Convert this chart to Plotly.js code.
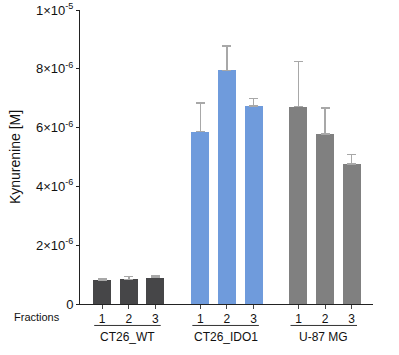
<!DOCTYPE html>
<html>
<head>
<meta charset="utf-8">
<script src="https://cdn.plot.ly/plotly-3.0.1.min.js"></script>
<style>html,body{margin:0;padding:0;background:#fff;}#chart{width:399px;height:355px;}</style>
</head>
<body>
<div id="chart"></div>
<script>
const groups = ["CT26_WT", "CT26_IDO1", "U-87 MG"];
const fractions = ["1", "2", "3"];
const wtValues = [0.82e-6, 0.84e-6, 0.90e-6];
const wtErrors = [0.05e-6, 0.10e-6, 0.06e-6];
const idoValues = [5.86e-6, 7.95e-6, 6.73e-6];
const idoErrors = [0.98e-6, 0.82e-6, 0.26e-6];
const u87Values = [6.71e-6, 5.78e-6, 4.77e-6];
const u87Errors = [1.53e-6, 0.88e-6, 0.32e-6];
const yTickVals = [0, 2e-6, 4e-6, 6e-6, 8e-6, 1e-5];
const yTickText = ["0", "2×10<sup>-6</sup>", "4×10<sup>-6</sup>", "6×10<sup>-6</sup>", "8×10<sup>-6</sup>", "1×10<sup>-5</sup>"];

const groupOffsets = [0, 3.6875, 7.375];
const colors = ["#464648", "#6f9bdc", "#808080"];
const seriesVals = [wtValues, idoValues, u87Values];
const seriesErr = [wtErrors, idoErrors, u87Errors];

const traces = [];
const allX = [], allText = [];
groups.forEach((g, gi) => {
  const xs = fractions.map((f, i) => groupOffsets[gi] + i);
  xs.forEach((x, i) => { allX.push(x); allText.push(fractions[i]); });
  traces.push({
    type: "bar", x: xs, y: seriesVals[gi], width: 0.675,
    marker: {color: colors[gi], line: {width: 0}},
    error_y: {type: "data", symmetric: false, array: seriesErr[gi], arrayminus: [0,0,0],
      color: "#a8a8a8", thickness: 1.5, width: 4.5},
    showlegend: false, hoverinfo: "skip"
  });
});

const shapes = [], annotations = [];
groups.forEach((g, gi) => {
  const c = groupOffsets[gi] + 1;
  shapes.push({type: "line", xref: "x", yref: "paper", x0: c - 1.3, x1: c + 1.2, y0: -0.073, y1: -0.073,
    line: {color: "#333", width: 1}});
  annotations.push({xref: "x", yref: "paper", x: c - 0.05, y: -0.112, text: g, showarrow: false,
    font: {family: "Liberation Sans, Arial, sans-serif", size: 12, color: "#111"}, yanchor: "middle"});
});
annotations.push({xref: "paper", yref: "paper", x: -0.06, y: -0.043, text: "Fractions", showarrow: false,
  xanchor: "right", yanchor: "middle", font: {family: "Liberation Sans, Arial, sans-serif", size: 11, color: "#111"}});

Plotly.newPlot("chart", traces, {
  width: 399, height: 355,
  margin: {l: 80, r: 26, t: 10, b: 51},
  paper_bgcolor: "#fff", plot_bgcolor: "#fff",
  bargap: 0,
  xaxis: {range: [-0.833, 10.175], tickvals: allX, ticktext: allText, showgrid: false, zeroline: false,
    showline: true, linecolor: "#222", linewidth: 1, ticks: "outside", ticklen: 4, tickcolor: "#444",
    tickfont: {family: "Liberation Sans, Arial, sans-serif", size: 12, color: "#111"}, fixedrange: true},
  yaxis: {range: [0, 1e-5], tickvals: yTickVals, ticktext: yTickText, showgrid: false, zeroline: false,
    showline: true, linecolor: "#222", linewidth: 1, ticks: "outside", ticklen: 3, tickcolor: "#222",
    tickfont: {family: "Liberation Sans, Arial, sans-serif", size: 13, color: "#111"},
    title: {text: "Kynurenine [M]", standoff: 12, font: {family: "Liberation Sans, Arial, sans-serif", size: 14, color: "#111"}},
    fixedrange: true},
  shapes: shapes, annotations: annotations
}, {displayModeBar: false, staticPlot: true});
</script>
</body>
</html>
